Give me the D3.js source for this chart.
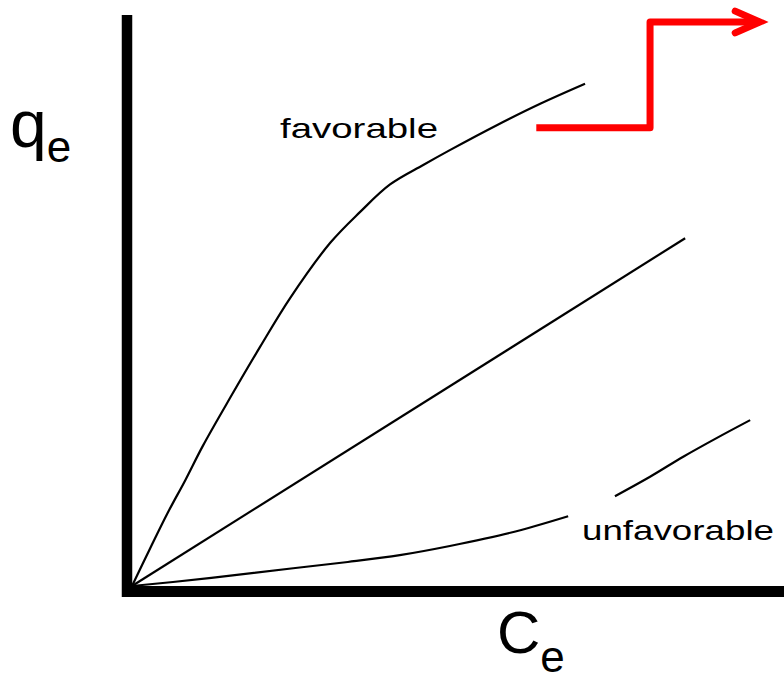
<!DOCTYPE html>
<html lang="en">
<head>
    <meta charset="UTF-8">
    <title>Adsorption isotherms</title>
    <script src="https://cdn.jsdelivr.net/npm/d3@7"></script>
    <style>
        html, body { margin: 0; padding: 0; background: #fff; }
        svg { display: block; }
        text { font-family: "Liberation Sans", Arial, sans-serif; fill: #000; }
    </style>
</head>
<body>
<script>
    // data (arbitrary units, Ce on x, qe on y)
    var favX = [0, 2.8, 5.5, 8.2, 10.9, 15.1, 19.7, 24.3, 30.5, 35.1, 39.7, 44.8, 48.9, 56.2, 62.8, 69.7];
    var favY = [0, 6.6, 12.8, 18.5, 24.5, 32.9, 41.8, 50.3, 60.0, 65.4, 70.2, 73.6, 76.2, 80.6, 84.3, 87.8];

    var linX = [0, 85.1];
    var linY = [0, 60.8];

    // null = break in the line where the label sits
    var unfX = [0, 6.3, 15.8, 24.8, 33.2, 41.2, 48.9, 58.2, 67.1, null, 74.3, 79.7, 84.8, 90.0, 95.1];
    var unfY = [0, 0.7, 1.9, 3.1, 4.2, 5.4, 7.0, 9.3, 12.2, null, 15.7, 19.1, 22.6, 25.9, 29.0];

    var labels = ["favorable", "unfavorable"];

    var width = 784, height = 682;

    var svg = d3.select("body").append("svg")
        .attr("width", width)
        .attr("height", height);

    var x = d3.scaleLinear().domain([0, 100]).range([132, 782]);
    var y = d3.scaleLinear().domain([0, 100]).range([586, 14]);

    function toPts(xs, ys) {
        return xs.map((d, i) => d == null ? null : [d, ys[i]]);
    }

    var line = d3.line()
        .defined(d => d != null)
        .x(d => x(d[0]))
        .y(d => y(d[1]));

    var series = [
        {pts: toPts(favX, favY), curve: d3.curveCatmullRom},
        {pts: toPts(linX, linY), curve: d3.curveLinear},
        {pts: toPts(unfX, unfY), curve: d3.curveCatmullRom}
    ];

    svg.selectAll(".iso")
        .data(series)
        .enter()
        .append("path")
        .attr("class", "iso")
        .attr("fill", "none")
        .attr("stroke", "#000")
        .attr("stroke-width", 2.2)
        .attr("d", d => line.curve(d.curve)(d.pts));

    // thick axes
    svg.append("line")
        .attr("x1", x(0) - 5).attr("x2", x(0) - 5)
        .attr("y1", y(100) + 1).attr("y2", y(0) + 11)
        .attr("stroke", "#000").attr("stroke-width", 10.5);
    svg.append("line")
        .attr("x1", x(0) - 10).attr("x2", width)
        .attr("y1", y(0) + 5.5).attr("y2", y(0) + 5.5)
        .attr("stroke", "#000").attr("stroke-width", 11);

    // curve labels
    svg.append("text")
        .attr("x", 280).attr("y", 138)
        .attr("font-size", 28)
        .attr("textLength", 158)
        .attr("lengthAdjust", "spacingAndGlyphs")
        .text(labels[0]);
    svg.append("text")
        .attr("x", 582).attr("y", 540)
        .attr("font-size", 28)
        .attr("textLength", 192)
        .attr("lengthAdjust", "spacingAndGlyphs")
        .text(labels[1]);

    // axis titles
    var qe = svg.append("text").attr("x", 10).attr("y", 147).attr("font-size", 66);
    qe.append("tspan").text("q");
    qe.append("tspan").attr("font-size", 44).attr("dy", 15).text("e");

    var ce = svg.append("text").attr("x", 497).attr("y", 653).attr("font-size", 60);
    ce.append("tspan").text("C");
    ce.append("tspan").attr("font-size", 44).attr("dy", 19).text("e");

    // red step arrow
    var arrow = [[62.2, 80.1], [79.7, 80.1], [79.7, 98.6], [96.6, 98.6]];
    var head = [[92.8, 100.5], [96.6, 98.6], [92.8, 96.7]];
    var plain = d3.line().x(d => x(d[0])).y(d => y(d[1]));
    svg.append("path")
        .attr("d", plain(arrow))
        .attr("fill", "none").attr("stroke", "#ff0000")
        .attr("stroke-width", 7).attr("stroke-linejoin", "round");
    svg.append("path")
        .attr("d", plain(head))
        .attr("fill", "none").attr("stroke", "#ff0000")
        .attr("stroke-width", 7).attr("stroke-linecap", "round").attr("stroke-linejoin", "miter");
</script>
</body>
</html>
